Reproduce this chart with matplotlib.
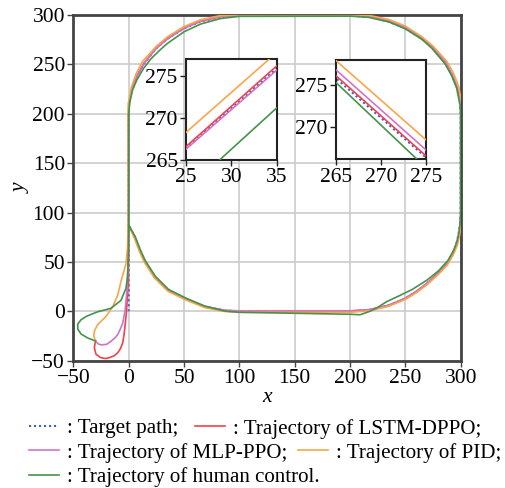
import matplotlib
matplotlib.use("Agg")
import matplotlib.pyplot as plt

plt.rcParams['font.family'] = 'serif'
plt.rcParams['font.serif'] = ['Liberation Serif', 'DejaVu Serif']
plt.rcParams['font.size'] = 15.5

# (x, y) points
target_xy = [(0, 0), (0, 200), (0.4, 209), (3.4, 226), (8, 239), (14, 251), (25, 266.4), (35, 275.9),
             (50, 286.4), (65, 293.4), (83, 298), (100, 299.4), (200, 299.4), (217, 298), (235, 293.4),
             (250, 286.4), (265, 275.8), (275, 266.4), (286.6, 251), (292, 239), (296.6, 226),
             (299.6, 209), (300, 200), (300, 100), (299.3, 88), (298, 78), (296, 68), (292.5, 58),
             (287.4, 48), (280, 39), (269.3, 28), (260, 20), (250, 13), (235, 6), (218, 1.5), (200, 0),
             (100, 0), (86.8, 0.7), (68.7, 4.7), (50.7, 13), (35.7, 21.4), (23.7, 34.8), (14.7, 50.5),
             (10.2, 61.5), (5.7, 74.8), (0.3, 86.6)]

lstm_dppo_xy = [(-30, -30), (-31, -37), (-29.5, -43.5), (-25, -47), (-21, -47.8), (-17.5, -47),
                (-13, -45), (-9.9, -42), (-7.5, -38), (-5.4, -32), (-4.2, -24), (-3.3, -15), (-2.2, -3),
                (-1.5, 8), (-0.4, 28), (0, 60), (0, 200), (0.4, 209.2), (3.4, 226.3), (8, 239.5),
                (14, 251.4), (25, 266.6), (35, 276.2), (50, 286.7), (65, 293.6), (83, 298.3),
                (100, 299.3), (200, 299.3), (217, 298.3), (235, 293.6), (250, 286.8), (265, 276.1),
                (275, 266.6), (286.3, 251.2), (292.2, 239.3), (296.8, 226.2), (299.8, 209.2),
                (300.2, 200), (300.2, 100), (299.6, 88), (298.4, 78), (296.3, 68), (292.4, 58),
                (287.3, 48), (279.8, 39), (269.2, 28), (259.8, 20), (249.8, 13), (234.8, 6),
                (217.8, 1.5), (200, 0.2), (100, 0.2), (86.8, 0.8), (68.7, 4.8), (50.6, 13.1),
                (35.5, 21.5), (23.5, 34.9), (14.5, 50.5), (10, 61.5), (5.5, 74.8), (0.3, 86.6)]

mlp_ppo_xy = [(-30, -30), (-27.5, -33), (-25, -34), (-20, -33.5), (-16, -30.4), (-12.5, -27),
              (-9.9, -23.6), (-7.5, -18), (-5.4, -12), (-3.3, 0), (-1.5, 21), (-0.5, 50), (0, 80),
              (0, 200), (0.4, 209), (3.4, 226.1), (8, 239.3), (14, 251.2), (25, 266.3), (35, 275.7),
              (50, 286.6), (65, 293.8), (83, 298.6), (100, 299.5), (200, 299.6), (217, 298.8),
              (235, 294.3), (250, 287.5), (265, 276.8), (275, 267.3), (286.6, 251.8), (292.3, 239.8),
              (297, 226.6), (300, 209.5), (300.4, 200), (300.4, 100), (299.7, 88), (298.4, 78),
              (296.3, 68), (292.4, 58), (287.2, 48), (279.8, 39), (269.2, 28), (259.8, 20),
              (249.8, 13.2), (234.8, 6.2), (217.8, 1.8), (200, 0.5), (100, 0.5), (86.8, 1),
              (68.7, 5), (50.6, 13.2), (35.5, 21.6), (23.5, 35), (14.5, 50.6), (10, 61.6),
              (5.5, 74.9), (0.3, 86.6)]

pid_xy = [(-30, -30), (-31.5, -25), (-31, -20), (-28, -13.5), (-24, -9), (-20.5, -5.3), (-14.4, 4.7),
          (-10, 16), (-7, 30), (-4.5, 40), (-2.4, 48), (-1, 65), (-0.3, 95), (-0.5, 200),
          (-0.4, 210), (2.5, 227), (6.8, 240.5), (12.5, 253), (25, 268.3), (35, 277.8), (50, 288.3),
          (65, 295.2), (83, 299.4), (100, 300.2), (200, 300.2), (217, 299.6), (235, 295.5),
          (250, 288.8), (265, 277.9), (275, 268.5), (287.5, 253), (293.5, 241), (298.2, 227.5),
          (301, 210), (301.2, 200), (301.2, 100), (300.4, 88), (299, 77), (297, 67), (293.2, 57),
          (288, 47), (280.4, 38), (269.7, 27), (260, 18.8), (250, 12), (234.8, 5), (217.8, 0.5),
          (200, -1), (100, -1), (86.8, -0.2), (68.7, 3.7), (50.6, 12), (35.4, 20.3), (23.3, 33.7),
          (14.2, 49.5), (9.7, 60.6), (5.2, 74), (0.3, 86.6)]

human_xy = [(-30, -30), (-37, -27), (-43, -23), (-46, -18), (-46, -13), (-43, -8.5), (-38, -5),
            (-28, -0.5), (-16, 3), (-7, 11), (-2.5, 23), (-1, 35), (-0.3, 55), (0, 80), (0, 200),
            (1, 212), (3.5, 224), (7.5, 234.5), (13.5, 246), (20, 255.5), (29, 265.3), (35, 271.2),
            (50, 283), (65, 290.8), (83, 296.4), (100, 298.6), (200, 298.8), (217, 297.6),
            (235, 293), (250, 286), (265, 275.3), (274, 266.2), (285.8, 250.6), (291.8, 238.6),
            (296.4, 225.8), (299.4, 209), (299.8, 200), (299.8, 100), (299.5, 90), (298.6, 81),
            (297, 72), (293.8, 62), (288.5, 51.5), (280, 41), (269.3, 31.4), (256, 22), (245, 16),
            (233, 9.7), (225, 4), (218, 0), (209, -3.5), (200, -3), (150, -2), (100, -1),
            (86.8, 0.2), (68.7, 5.3), (50.8, 13.8), (36, 22.2), (24, 35.6), (15, 51.3),
            (10.5, 62.3), (6, 75.5), (0.3, 86.6)]

series = [
    (target_xy, '#3f5fc8', ': Target path;'),
    (lstm_dppo_xy, '#f0424c', ': Trajectory of LSTM-DPPO;'),
    (mlp_ppo_xy, '#cf74c8', ': Trajectory of MLP-PPO;'),
    (pid_xy, '#f8a64a', ': Trajectory of PID;'),
    (human_xy, '#45934a', ': Trajectory of human control.'),
]

main_ticks = [-50, 0, 50, 100, 150, 200, 250, 300]
inset1_xticks = [25, 30, 35]
inset1_yticks = [265, 270, 275]
inset2_xticks = [265, 270, 275]
inset2_yticks = [270, 275]


def draw_series(ax):
    handles = []
    for xy, color, label in series:
        xs = [p[0] for p in xy]
        ys = [p[1] for p in xy]
        if xy is target_xy:
            h, = ax.plot(xs, ys, color=color, lw=1.5, ls=(0, (1, 1.4)), zorder=2)
        else:
            h, = ax.plot(xs, ys, color=color, lw=1.2, zorder=3)
        handles.append(h)
    return handles


def style_axes(ax, color, lw):
    for s in ax.spines.values():
        s.set_color(color)
        s.set_linewidth(lw)
    ax.tick_params(direction='out', length=4, width=1, color=color, pad=2)


fig = plt.figure(figsize=(5.06, 4.88), dpi=100)
ax = fig.add_axes([0.1449, 0.2609, 0.7656, 0.7084])
handles = draw_series(ax)
ax.set_xlim(-50, 300)
ax.set_ylim(-50, 300)
ax.set_xticks(main_ticks)
ax.set_yticks(main_ticks)
ax.grid(True, color='#cccccc', lw=1.2)
ax.set_axisbelow(True)
style_axes(ax, '#444444', 2)
ax.set_xlabel('x', fontstyle='italic', labelpad=0)
ax.set_ylabel('y', fontstyle='italic', labelpad=0)

# insets
ins1 = fig.add_axes([0.3676, 0.672, 0.179, 0.2064])
draw_series(ins1)
ins1.set_xlim(25, 35)
ins1.set_ylim(265, 277)
ins1.set_xticks(inset1_xticks)
ins1.set_yticks(inset1_yticks)
style_axes(ins1, '#222222', 1.5)

ins2 = fig.add_axes([0.664, 0.6736, 0.178, 0.204])
draw_series(ins2)
ins2.set_xlim(265, 275)
ins2.set_ylim(266.2, 278)
ins2.set_xticks(inset2_xticks)
ins2.set_yticks(inset2_yticks)
style_axes(ins2, '#222222', 1.5)

# legend entries flow over three lines below the axes
labels = [s[2] for s in series]
anchors = [(0.057, 0.142), (0.385, 0.142), (0.057, 0.093), (0.589, 0.093), (0.057, 0.043)]
for h, lab, anchor in zip(handles, labels, anchors):
    fig.legend([h], [lab], loc='upper left', bbox_to_anchor=anchor, frameon=False,
               borderpad=0, borderaxespad=0, handlelength=1.45, handletextpad=0.38,
               fontsize=15.1)

fig.savefig('out.png', dpi=100)
